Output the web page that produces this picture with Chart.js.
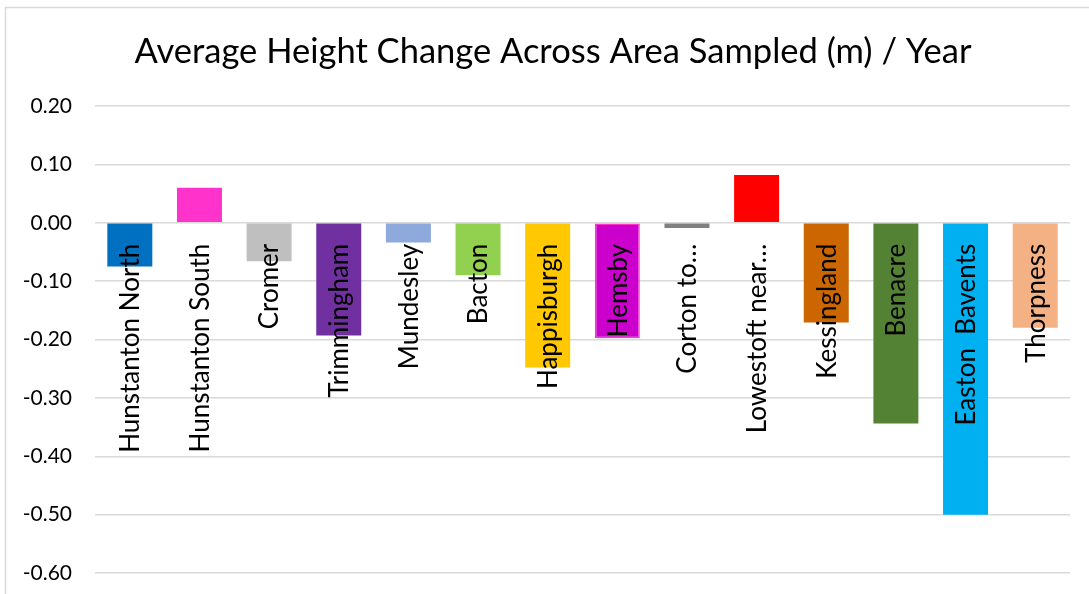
<!DOCTYPE html>
<html>
<head>
<meta charset="utf-8">
<script src="https://cdn.jsdelivr.net/npm/chart.js@4.4.1/dist/chart.umd.min.js"></script>
<style>
  html, body { margin: 0; padding: 0; background: #fff; overflow: hidden; }
  #wrap { width: 1089px; height: 594px; }
</style>
</head>
<body>
<div id="wrap"><canvas id="heightChart" width="1089" height="594"></canvas></div>
<script>
// sites along the coast, north to south
const sites = [
  'Hunstanton North', 'Hunstanton South', 'Cromer', 'Trimmingham', 'Mundesley',
  'Bacton', 'Happisburgh', 'Hemsby', 'Corton to…', 'Lowestoft near…',
  'Kessingland', 'Benacre', 'Easton  Bavents', 'Thorpness'
];
// average height change (m) per year
const heightChange = [
  -0.075, 0.06, -0.066, -0.193, -0.034,
  -0.09, -0.248, -0.198, -0.009, 0.082,
  -0.171, -0.344, -0.50, -0.18
];
const barColours = [
  '#0070C0', '#FF33CC', '#BFBFBF', '#7030A0', '#8EA9DB',
  '#92D050', '#FFC800', '#CC00CC', '#808080', '#FF0000',
  '#CC6600', '#548235', '#00B0F0', '#F4B183'
];
const yTicks = [0.2, 0.1, 0, -0.1, -0.2, -0.3, -0.4, -0.5, -0.6];
const chartTitle = 'Average Height Change Across Area Sampled (m) / Year';

const FONT = 'Lato, "Noto Sans", sans-serif';

// light frame round the chart plus the heading
const framePlugin = {
  id: 'frame',
  beforeDraw(chart) {
    const ctx = chart.ctx;
    ctx.save();
    ctx.strokeStyle = '#d9d9d9';
    ctx.lineWidth = 1.5;
    ctx.beginPath();
    ctx.moveTo(5.5, chart.height);
    ctx.lineTo(5.5, 7.5);
    ctx.lineTo(chart.width, 7.5);
    ctx.stroke();

    ctx.fillStyle = '#000';
    ctx.font = '34.5px ' + FONT;
    ctx.textAlign = 'center';
    ctx.textBaseline = 'middle';
    ctx.fillText(chartTitle, 553, 52);
    ctx.restore();
  }
};

// category names sit just under the zero line, turned on their side
const siteLabels = {
  id: 'siteLabels',
  afterDatasetsDraw(chart) {
    const ctx = chart.ctx;
    const x = chart.scales.x;
    const y = chart.scales.y;
    const top = y.getPixelForValue(0) + 21;
    ctx.save();
    ctx.font = '26px ' + FONT;
    ctx.fillStyle = '#000';
    ctx.textAlign = 'right';
    ctx.textBaseline = 'middle';
    chart.data.labels.forEach((name, i) => {
      ctx.save();
      ctx.translate(x.getPixelForValue(i) + 1, top);
      ctx.rotate(-Math.PI / 2);
      ctx.fillText(name, 0, 0);
      ctx.restore();
    });
    ctx.restore();
  }
};

new Chart(document.getElementById('heightChart'), {
  type: 'bar',
  data: {
    labels: sites,
    datasets: [{
      label: 'Average height change',
      data: heightChange,
      backgroundColor: barColours,
      borderColor: sites.map((s, i) => i === 7 ? '#FF33CC' : 'transparent'),
      borderWidth: sites.map((s, i) => i === 7 ? 1.5 : 0),
      borderSkipped: false,
      barPercentage: 0.646,
      categoryPercentage: 1
    }]
  },
  options: {
    responsive: false,
    animation: false,
    layout: { padding: { left: 0, right: 19, top: 106, bottom: 21 } },
    plugins: {
      legend: { display: false },
      tooltip: { enabled: false },
      title: { display: false }
    },
    scales: {
      x: {
        display: false
      },
      y: {
        min: -0.6,
        max: 0.2,
        afterFit(scale) {
          scale.width = 95;
          scale.paddingTop = 0;
          scale.paddingBottom = 0;
        },
        afterBuildTicks(scale) { scale.ticks = yTicks.map(v => ({ value: v })); },
        border: { display: false },
        grid: { color: '#d9d9d9', lineWidth: 1.5, drawTicks: false },
        ticks: {
          padding: 23,
          color: '#000',
          font: { family: FONT, size: 21 },
          callback: v => (Math.abs(v) < 1e-9 ? 0 : v).toFixed(2)
        }
      }
    }
  },
  plugins: [framePlugin, siteLabels]
});
</script>
</body>
</html>
